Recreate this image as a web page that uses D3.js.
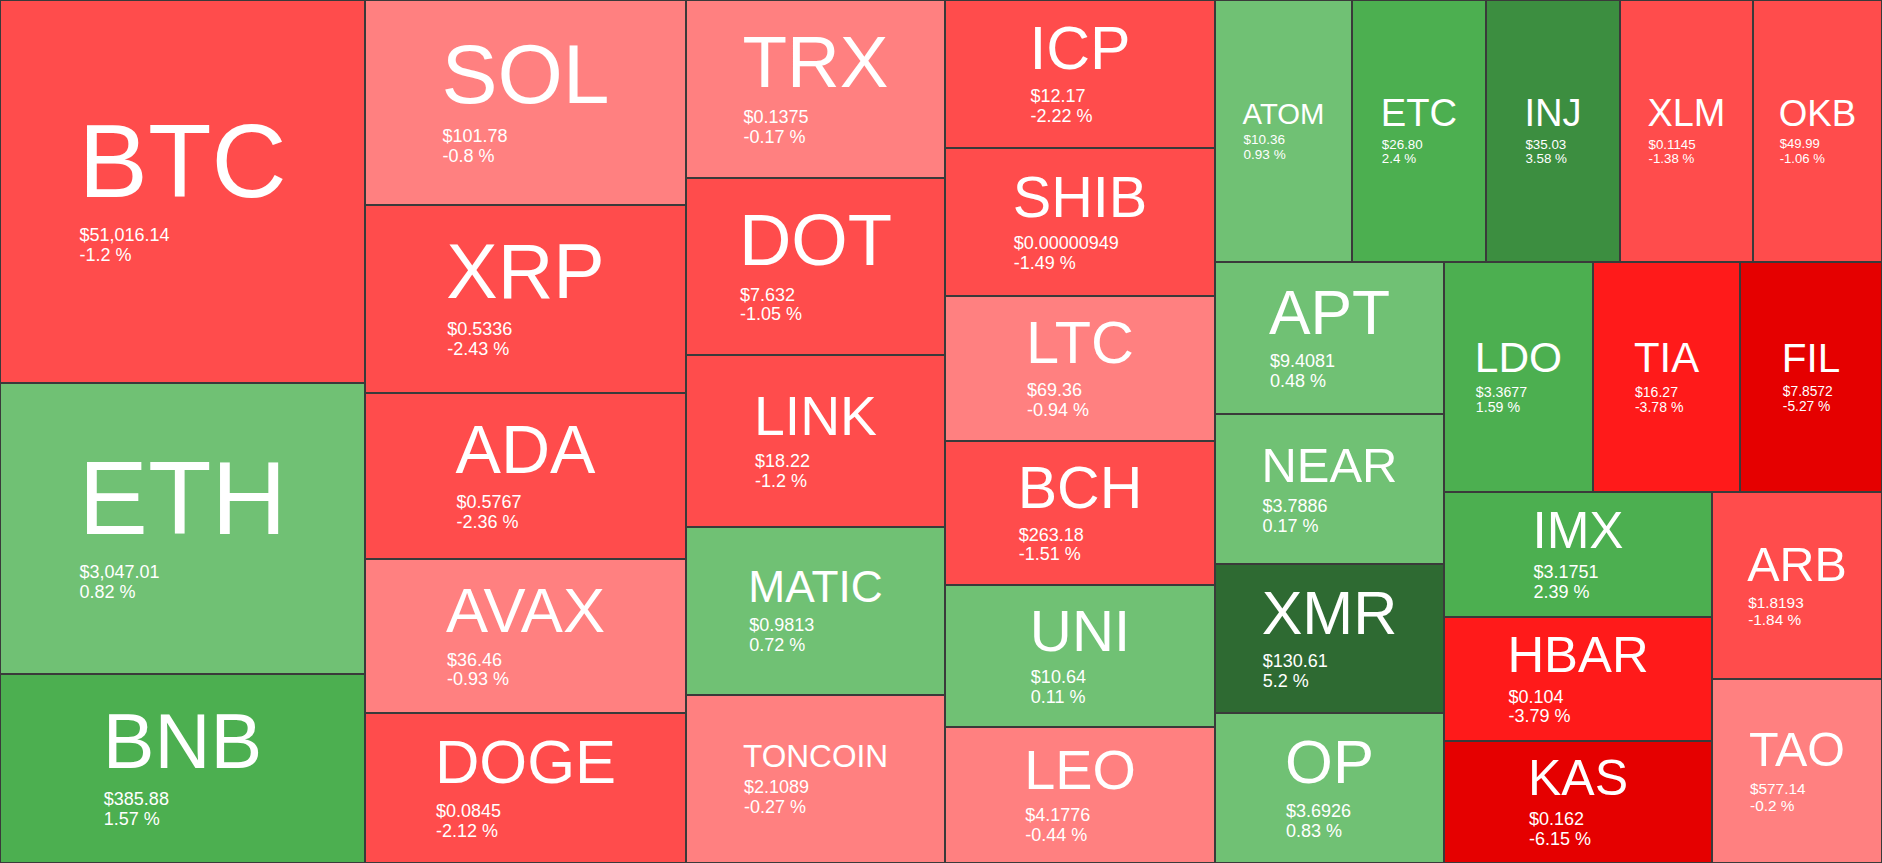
<!DOCTYPE html>
<html>
<head>
<meta charset="utf-8">
<script src="https://cdn.jsdelivr.net/npm/d3@7"></script>
<style>
  html, body { margin: 0; padding: 0; background: #ffffff; overflow: hidden; }
  svg { display: block; }
  text { font-family: "Liberation Sans", Arial, Helvetica, sans-serif; fill: #ffffff; }
</style>
</head>
<body>
<svg id="chart"></svg>
<script>
// ---- Data ----
const tickers = ["BTC","ETH","BNB","SOL","XRP","ADA","AVAX","DOGE","TRX","DOT","LINK","MATIC","TONCOIN",
  "ICP","SHIB","LTC","BCH","UNI","LEO","ATOM","ETC","INJ","XLM","OKB","APT","NEAR","XMR","OP",
  "LDO","TIA","FIL","IMX","HBAR","KAS","ARB","TAO"];
// relative tile weights (estimated from the tile areas)
const weights = [139795,106215,68985,65805,60348,53286,49434,48150,45924,45666,44376,43350,43340,
  39960,39960,39150,38880,38340,36720,35894,35108,35108,34846,33798,34808,34350,34121,34350,
  34270,33810,32660,33500,33232,32696,31790,31280];
const prices = ["51,016.14","3,047.01","385.88","101.78","0.5336","0.5767","36.46","0.0845","0.1375","7.632","18.22","0.9813","2.1089",
  "12.17","0.00000949","69.36","263.18","10.64","4.1776","10.36","26.80","35.03","0.1145","49.99","9.4081","3.7886","130.61","3.6926",
  "3.3677","16.27","7.8572","3.1751","0.104","0.162","1.8193","577.14"];
const changes = [-1.2,0.82,1.57,-0.8,-2.43,-2.36,-0.93,-2.12,-0.17,-1.05,-1.2,0.72,-0.27,
  -2.22,-1.49,-0.94,-1.51,0.11,-0.44,0.93,2.4,3.58,-1.38,-1.06,0.48,0.17,5.2,0.83,
  1.59,-3.78,-5.27,2.39,-3.79,-6.15,-1.84,-0.2];

const W = 1882, H = 863;

const color = d3.scaleThreshold()
  .domain([-5, -3, -1, 0, 1, 3, 5])
  .range(["#e50000", "#ff1a1a", "#ff4c4c", "#ff8080", "#70c174", "#4caf50", "#3c8e40", "#2e6a32"]);

const rows = tickers.map((t, i) => ({ ticker: t, weight: weights[i], price: prices[i], change: changes[i] }));

const root = d3.hierarchy({ children: rows }).sum(d => d.weight || 0);

d3.treemap()
  .size([W, H])
  .tile(d3.treemapSquarify)
  .round(true)(root);

const svg = d3.select("#chart").attr("width", W).attr("height", H);

const cell = svg.selectAll("g.cell")
  .data(root.leaves())
  .join("g")
  .attr("class", "cell");

cell.append("rect")
  .attr("x", d => d.x0 + 0.5)
  .attr("y", d => d.y0 + 0.5)
  .attr("width", d => Math.max(0, d.x1 - d.x0 - 1))
  .attr("height", d => Math.max(0, d.y1 - d.y0 - 1))
  .attr("fill", d => color(d.data.change))
  .attr("stroke", "#3a3a3a")
  .attr("stroke-width", 1);

cell.each(function(d) {
  const g = d3.select(this);
  const w = d.x1 - d.x0, h = d.y1 - d.y0;
  const cx = (d.x0 + d.x1) / 2, cy = (d.y0 + d.y1) / 2;
  const n = d.data.ticker.length;
  const F = Math.min(w / (n * 1.17), h * 0.41);
  const P = Math.min(18, 6 + w * 0.055);
  const cap = 0.716 * F;
  const gap = P + 0.25 * F;
  const line = 1.1 * P;
  const blockH = cap + gap + line;
  const base = cy - blockH / 2 + cap;

  const t = g.append("text")
    .attr("x", cx)
    .attr("y", base)
    .attr("text-anchor", "middle")
    .style("font-size", F + "px")
    .text(d.data.ticker);
  const tw = t.node().getComputedTextLength();
  const left = cx - tw / 2 + 1;

  g.append("text")
    .attr("x", left)
    .attr("y", base + gap)
    .style("font-size", P + "px")
    .text("$" + d.data.price);

  g.append("text")
    .attr("x", left)
    .attr("y", base + gap + line)
    .style("font-size", P + "px")
    .text(d.data.change + " %");
});
</script>
</body>
</html>
